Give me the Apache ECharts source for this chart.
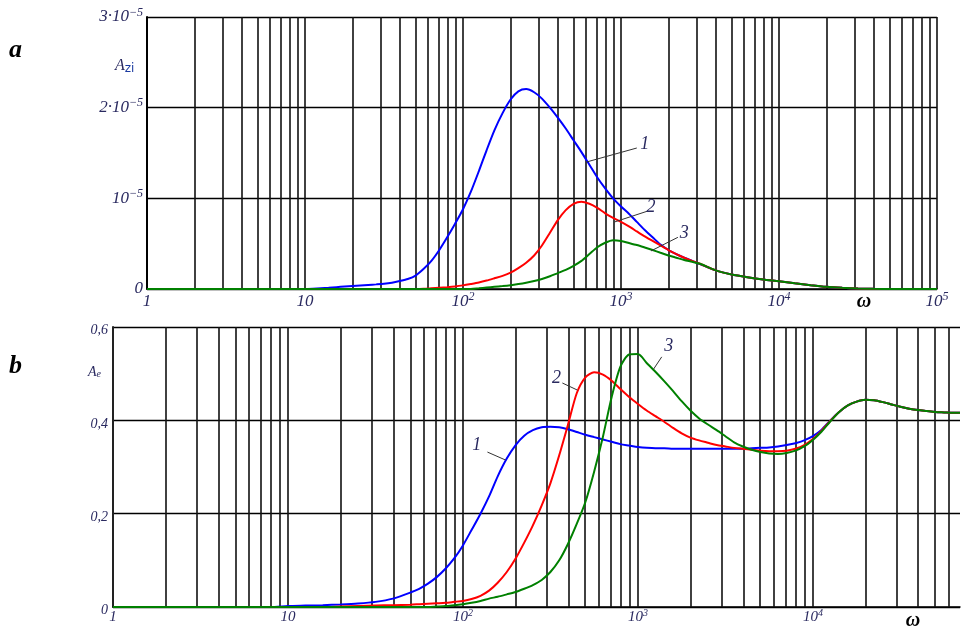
<!DOCTYPE html>
<html><head><meta charset="utf-8">
<script src="https://cdn.jsdelivr.net/npm/echarts@6/dist/echarts.min.js"></script>
<style>html,body{margin:0;padding:0;background:#fff}#c{width:963px;height:629px}</style>
</head><body><div id="c"></div>
<script>
// ---------- Panel a: A_zi (values in units of 1e-5), shared omega grid ----------
const omegaA = [1, 10, 11.2, 12.6, 14.1, 15.8, 17.8, 20, 22.4, 25.1, 28.2, 31.6, 35.5, 39.8, 44.7, 50.1, 56.2, 63.1, 70.8, 79.4, 89.1, 100, 112, 126, 141, 158, 178, 200, 224, 251, 282, 316, 355, 398, 447, 501, 562, 631, 708, 794, 891, 1000, 1122, 1259, 1413, 1585, 1778, 1995, 2239, 2512, 2818, 3162, 3981, 5012, 6310, 7943, 10000, 12589, 15849, 19953, 25119, 31623, 39811, 50119, 100000];
const azi1 = [0, 0, 0.003, 0.008, 0.013, 0.02, 0.027, 0.033, 0.039, 0.045, 0.051, 0.058, 0.07, 0.088, 0.11, 0.148, 0.22, 0.31, 0.43, 0.57, 0.72, 0.88, 1.07, 1.30, 1.53, 1.75, 1.94, 2.09, 2.18, 2.205, 2.17, 2.10, 2.00, 1.89, 1.77, 1.64, 1.51, 1.37, 1.23, 1.11, 1.00, 0.91, 0.83, 0.74, 0.65, 0.57, 0.49, 0.43, 0.385, 0.345, 0.31, 0.275, 0.205, 0.16, 0.13, 0.105, 0.085, 0.063, 0.042, 0.024, 0.013, 0.006, 0.002, 0, 0];
const azi2 = [0, 0, 0, 0, 0, 0, 0, 0, 0, 0, 0, 0, 0, 0, 0, 0, 0.002, 0.008, 0.014, 0.02, 0.028, 0.04, 0.055, 0.072, 0.093, 0.118, 0.145, 0.18, 0.23, 0.29, 0.37, 0.48, 0.62, 0.76, 0.87, 0.94, 0.963, 0.94, 0.895, 0.835, 0.785, 0.74, 0.69, 0.635, 0.58, 0.53, 0.48, 0.43, 0.385, 0.345, 0.31, 0.278, 0.205, 0.16, 0.13, 0.105, 0.085, 0.063, 0.042, 0.024, 0.013, 0.006, 0.002, 0, 0];
const azi3 = [0, 0, 0, 0, 0, 0, 0, 0, 0, 0, 0, 0, 0, 0, 0, 0, 0, 0, 0, 0, 0, 0, 0, 0.008, 0.016, 0.024, 0.032, 0.042, 0.055, 0.07, 0.088, 0.11, 0.14, 0.175, 0.21, 0.255, 0.31, 0.385, 0.46, 0.51, 0.538, 0.53, 0.508, 0.485, 0.458, 0.43, 0.40, 0.37, 0.345, 0.32, 0.30, 0.278, 0.205, 0.16, 0.13, 0.105, 0.085, 0.063, 0.042, 0.024, 0.013, 0.006, 0.002, 0, 0];

// ---------- Panel b: A_e, shared omega grid ----------
const omegaB = [1, 7.94, 10, 12.6, 15.8, 20, 25.1, 31.6, 39.8, 50.1, 56.2, 63.1, 70.8, 79.4, 89.1, 100, 112, 126, 141, 158, 178, 200, 224, 251, 282, 316, 355, 398, 447, 501, 562, 631, 708, 794, 891, 1000, 1122, 1259, 1413, 1585, 1778, 1995, 2239, 2512, 2818, 3162, 3548, 3981, 4467, 5012, 5623, 6310, 7079, 7943, 8913, 10000, 11220, 12589, 14125, 15849, 17783, 19953, 22387, 25119, 28184, 31623, 35481, 39811, 44668, 50119, 56234, 63096, 69300];
const ae1 = [0, 0, 0.002, 0.003, 0.004, 0.0055, 0.0075, 0.011, 0.018, 0.031, 0.039, 0.05, 0.064, 0.082, 0.104, 0.132, 0.165, 0.2, 0.237, 0.28, 0.318, 0.347, 0.367, 0.379, 0.385, 0.386, 0.385, 0.381, 0.375, 0.369, 0.364, 0.359, 0.354, 0.349, 0.346, 0.343, 0.341, 0.34, 0.34, 0.339, 0.339, 0.339, 0.339, 0.339, 0.339, 0.339, 0.339, 0.339, 0.34, 0.341, 0.342, 0.344, 0.347, 0.351, 0.357, 0.366, 0.38, 0.4, 0.418, 0.432, 0.44, 0.444, 0.443, 0.439, 0.434, 0.429, 0.425, 0.422, 0.42, 0.418, 0.417, 0.416, 0.416];
const ae2 = [0, 0, 0, 0, 0, 0.001, 0.002, 0.003, 0.004, 0.005, 0.006, 0.007, 0.008, 0.009, 0.011, 0.013, 0.017, 0.024, 0.035, 0.052, 0.075, 0.104, 0.138, 0.175, 0.218, 0.265, 0.325, 0.39, 0.458, 0.492, 0.503, 0.498, 0.485, 0.467, 0.45, 0.435, 0.421, 0.409, 0.397, 0.384, 0.372, 0.363, 0.357, 0.352, 0.347, 0.344, 0.341, 0.339, 0.337, 0.335, 0.334, 0.334, 0.335, 0.339, 0.347, 0.36, 0.378, 0.399, 0.418, 0.432, 0.44, 0.444, 0.443, 0.439, 0.434, 0.429, 0.425, 0.422, 0.42, 0.418, 0.417, 0.416, 0.416];
const ae3 = [0, 0, 0, 0, 0, 0, 0, 0, 0, 0, 0, 0, 0.001, 0.002, 0.004, 0.006, 0.009, 0.013, 0.018, 0.022, 0.027, 0.032, 0.039, 0.047, 0.058, 0.075, 0.10, 0.135, 0.178, 0.225, 0.29, 0.365, 0.45, 0.515, 0.541, 0.542, 0.523, 0.504, 0.484, 0.463, 0.441, 0.421, 0.404, 0.391, 0.379, 0.366, 0.353, 0.344, 0.337, 0.332, 0.329, 0.328, 0.33, 0.335, 0.344, 0.358, 0.376, 0.398, 0.418, 0.432, 0.44, 0.444, 0.443, 0.439, 0.434, 0.429, 0.425, 0.422, 0.42, 0.418, 0.417, 0.416, 0.416];

// ---------- ticks ----------
const xMinA = 1, xMaxA = 100000;
const xMinB = 1, xMaxB = 69300;
const yTicksA = [0, 1, 2, 3];
const yTickTextA = ['0', '10|\u22125', '2\u00b710|\u22125', '3\u00b710|\u22125'];
const yTicksB = [0, 0.2, 0.4, 0.6];
const yTickTextB = ['0', '0,2', '0,4', '0,6'];
const gridMantissas = [1, 2, 3, 4, 5, 6, 7, 8, 9];
const gridDecades = [1, 10, 100, 1000, 10000, 100000];
const curveNames = ['1', '2', '3'];

// annotations: [label, textAnchor(omega,v), leaderStart(omega,v), leaderEnd(omega,v)]
const annA = [
  ['1', [1413, 1.60], [603, 1.40], [1259, 1.555]],
  ['2', [1549, 0.90], [912, 0.74], [1479, 0.86]],
  ['3', [2512, 0.61], [1549, 0.42], [2291, 0.57]]
];
const annB = [
  ['1', [120, 0.347], [138, 0.332], [175, 0.315]],
  ['2', [342, 0.49], [370, 0.48], [450, 0.465]],
  ['3', [1500, 0.559], [1230, 0.51], [1368, 0.536]]
];

const colors = ['#0000ff', '#ff0000', '#008000'];
const serif = '"Liberation Serif", "DejaVu Serif", serif';
const ink = '#2a2a60';

function zip(xs, ys) { return xs.map((x, i) => [x, ys[i]]); }
function gridVals(maxV) {
  const out = [];
  gridDecades.forEach(d => gridMantissas.forEach(m => { const v = d * m; if (v > 1 && v <= maxV * 1.0001) out.push(v); }));
  return out;
}
function mkRich(bs, ss, cs) {
  return {
    b: { fontFamily: serif, fontStyle: 'italic', fontSize: bs, color: ink, lineHeight: bs + 4 },
    s: { fontFamily: serif, fontStyle: 'italic', fontSize: ss, color: ink, verticalAlign: 'top', lineHeight: bs + 4 },
    c: { fontFamily: serif, fontStyle: 'italic', fontSize: cs, color: ink }
  };
}
const richA = mkRich(17, 12, 14), richB = mkRich(15, 10, 14);
function fmtX(v) {
  const l = Math.log10(v), e = Math.round(l);
  if (Math.abs(l - e) > 1e-6) return '';
  if (e === 0) return '{b|1}';
  if (e === 1) return '{b|10}';
  return '{b|10}{s|' + e + '}';
}
function fmtYA(v) {
  const i = yTicksA.indexOf(Math.round(v));
  if (i < 0) return '';
  const p = yTickTextA[i].split('|');
  return p.length > 1 ? '{b|' + p[0] + '}{s|' + p[1] + '}' : '{b|' + p[0] + '}';
}
function fmtYB(v) {
  const i = yTicksB.findIndex(t => Math.abs(t - v) < 1e-9);
  return i < 0 ? '' : '{c|' + yTickTextB[i] + '}';
}

const lineSeries = (name, data, c, xi) => ({
  name, type: 'line', xAxisIndex: xi, yAxisIndex: xi, data, showSymbol: false, smooth: 0.25,
  lineStyle: { color: c, width: 2 }, itemStyle: { color: c }, silent: true, z: 5
});
const gridSeries = (xi, maxV) => ({
  type: 'line', xAxisIndex: xi, yAxisIndex: xi, data: [[1, 0]], showSymbol: false,
  lineStyle: { opacity: 0 }, silent: true, z: 2,
  markLine: { silent: true, symbol: ['none', 'none'], label: { show: false }, animation: false,
    emphasis: { disabled: true },
    lineStyle: { color: '#111', width: 1.6, type: 'solid' },
    data: gridVals(maxV).map(v => ({ xAxis: v })) }
});

const chart = echarts.init(document.getElementById('c'), null, { renderer: 'canvas' });
chart.setOption({
  animation: false,
  backgroundColor: '#ffffff',
  grid: [
    { left: 147, top: 17, width: 790, height: 272 },
    { left: 113, top: 327, width: 852, height: 280 }
  ],
  xAxis: [
    { type: 'log', gridIndex: 0, min: xMinA, max: xMaxA, logBase: 10, splitNumber: 5,
      axisLine: { lineStyle: { color: '#000', width: 1.5 } }, axisTick: { show: false }, splitLine: { show: false },
      axisLabel: { formatter: fmtX, rich: richA, margin: 2, showMinLabel: true, showMaxLabel: true } },
    { type: 'log', gridIndex: 1, min: xMinB, max: xMaxB, logBase: 10, splitNumber: 5,
      axisLine: { lineStyle: { color: '#000', width: 1.5 } }, axisTick: { show: false }, splitLine: { show: false },
      axisLabel: { formatter: fmtX, rich: richB, margin: 1, showMinLabel: true, showMaxLabel: true } }
  ],
  yAxis: [
    { type: 'value', gridIndex: 0, min: 0, max: 3, interval: 1,
      axisLine: { show: true, lineStyle: { color: '#000', width: 2 } }, axisTick: { show: false },
      splitLine: { show: true, lineStyle: { color: '#000', width: 1.3 } },
      axisLabel: { formatter: fmtYA, rich: richA, margin: 4 } },
    { type: 'value', gridIndex: 1, min: 0, max: 0.6, interval: 0.2,
      axisLine: { show: true, lineStyle: { color: '#222', width: 2 } }, axisTick: { show: false },
      splitLine: { show: true, lineStyle: { color: '#000', width: 1.3 } },
      axisLabel: { formatter: fmtYB, rich: richB, margin: 5, padding: [7, 0, 0, 0] } }
  ],
  series: [
    gridSeries(0, xMaxA), gridSeries(1, xMaxB),
    lineSeries(curveNames[0], zip(omegaA, azi1), colors[0], 0),
    lineSeries(curveNames[1], zip(omegaA, azi2), colors[1], 0),
    lineSeries(curveNames[2], zip(omegaA, azi3), colors[2], 0),
    lineSeries(curveNames[0], zip(omegaB, ae1), colors[0], 1),
    lineSeries(curveNames[1], zip(omegaB, ae2), colors[1], 1),
    lineSeries(curveNames[2], zip(omegaB, ae3), colors[2], 1)
  ]
});

// annotations & titles
const g = [];
function addAnn(list, gi) {
  list.forEach(a => {
    const t = chart.convertToPixel({ gridIndex: gi }, a[1]);
    const p1 = chart.convertToPixel({ gridIndex: gi }, a[2]);
    const p2 = chart.convertToPixel({ gridIndex: gi }, a[3]);
    g.push({ type: 'line', silent: true, z: 10, shape: { x1: p1[0], y1: p1[1], x2: p2[0], y2: p2[1] },
      style: { stroke: '#333', lineWidth: 1 } });
    g.push({ type: 'text', silent: true, z: 10, x: t[0], y: t[1],
      style: { text: a[0], fill: ink, font: 'italic 18px ' + serif, align: 'center', verticalAlign: 'middle' } });
  });
}
addAnn(annA, 0); addAnn(annB, 1);
g.push({ type: 'text', x: 9, y: 50, style: { text: 'a', fill: '#000', font: 'italic bold 26px ' + serif, verticalAlign: 'middle' } });
g.push({ type: 'text', x: 9, y: 366, style: { text: 'b', fill: '#000', font: 'italic bold 26px ' + serif, verticalAlign: 'middle' } });
g.push({ type: 'text', x: 115, y: 66, style: { rich: { A: { fontFamily: serif, fontStyle: 'italic', fontSize: 16, fill: ink }, z: { fontFamily: '"DejaVu Sans", sans-serif', fontSize: 12, fill: '#1a3aa0', padding: [6, 0, 0, 0] } }, text: '{A|A}{z|zi}', verticalAlign: 'middle' } });
g.push({ type: 'text', x: 88, y: 372, style: { rich: { A: { fontFamily: serif, fontStyle: 'italic', fontSize: 14, fill: ink }, z: { fontFamily: serif, fontStyle: 'italic', fontSize: 10, fill: ink, padding: [5, 0, 0, 0] } }, text: '{A|A}{z|e}', verticalAlign: 'middle' } });
g.push({ type: 'text', x: 864, y: 302, style: { text: '\u03c9', fill: '#000', font: 'italic bold 20px ' + serif, align: 'center', verticalAlign: 'middle' } });
g.push({ type: 'text', x: 913, y: 621, style: { text: '\u03c9', fill: '#000', font: 'italic bold 20px ' + serif, align: 'center', verticalAlign: 'middle' } });
chart.setOption({ graphic: g });
</script></body></html>
